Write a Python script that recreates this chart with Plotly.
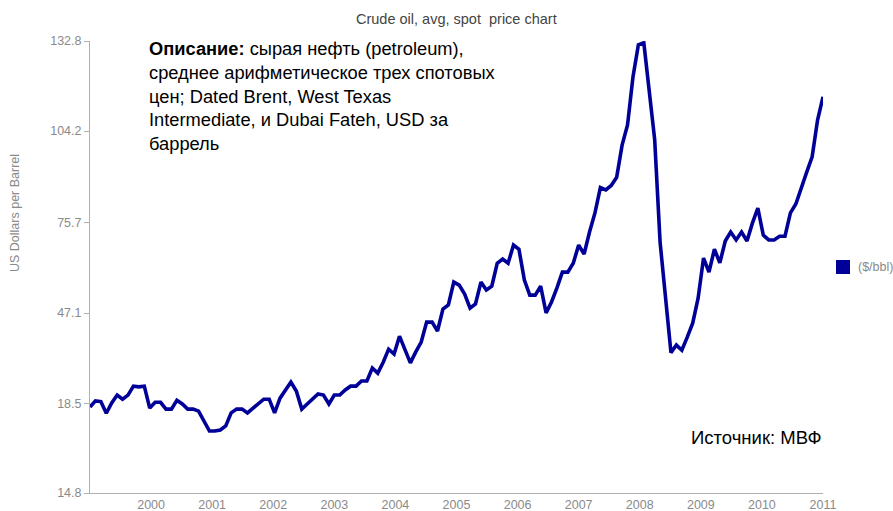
import plotly.graph_objects as go

# Monthly values, Jan 2000 - Apr 2011 ($/bbl)
y2000 = [25.9, 27.7, 27.5, 24.1, 27.1, 29.4, 28.2, 29.4, 32.0, 31.8, 32.0, 25.6]
y2001 = [27.3, 27.3, 25.3, 25.3, 27.9, 26.8, 25.3, 25.3, 24.7, 21.8, 18.9, 18.9]
y2002 = [19.2, 20.4, 24.2, 25.3, 25.3, 24.2, 25.6, 26.8, 28.2, 28.2, 24.2, 28.5]
y2003 = [30.9, 33.2, 30.6, 25.3, 26.8, 28.2, 29.7, 29.4, 26.8, 29.4, 29.4, 30.9]
y2004 = [32.0, 32.0, 33.5, 33.5, 37.3, 35.8, 39.0, 42.8, 41.4, 46.6, 42.5, 38.8]
y2005 = [42.0, 44.9, 50.7, 50.7, 48.1, 54.5, 55.7, 62.4, 61.5, 58.9, 54.8, 56.0]
y2006 = [62.4, 60.1, 61.2, 67.9, 69.1, 67.9, 73.2, 72.0, 63.0, 58.6, 58.6, 61.2]
y2007 = [53.4, 56.6, 60.7, 65.3, 65.3, 67.9, 73.2, 70.6, 77.0, 82.6, 90.0, 89.3]
y2008 = [90.6, 93.0, 102.4, 108.3, 122.3, 131.7, 132.3, 117.0, 104.0, 74.0, 57.0, 41.8]
y2009 = [44.0, 42.5, 46.3, 50.4, 57.7, 69.4, 65.3, 72.0, 68.0, 74.4, 77.0, 74.7]
y2010 = [77.0, 74.4, 79.6, 84.0, 76.1, 74.7, 74.7, 75.8, 75.8, 82.6, 85.2, 90.2]
y2011 = [94.5, 99.0, 109.7, 116.5]

prices = y2000 + y2001 + y2002 + y2003 + y2004 + y2005 + y2006 + y2007 + y2008 + y2009 + y2010 + y2011
months = list(range(len(prices)))

year_labels = ["2000", "2001", "2002", "2003", "2004", "2005",
               "2006", "2007", "2008", "2009", "2010", "2011"]
y_tick_labels = ["14.8", "18.5", "47.1", "75.7", "104.2", "132.8"]
y_tick_values = [0.8, 26.8, 53.35, 79.9, 106.5, 132.8]

series_name = "($/bbl)"
title_text = "Crude oil, avg, spot\u00a0 price chart"
y_title = "US Dollars per Barrel"
desc_text = ("<b>Описание:</b> сырая нефть (petroleum),<br>"
             "среднее арифметическое трех спотовых<br>"
             "цен; Dated Brent, West Texas<br>"
             "Intermediate, и Dubai Fateh, USD за<br>"
             "баррель")
source_text = "Источник: МВФ"

W, H = 893, 511
L, R, T, B = 90, 70, 41, 18
PW, PH = W - L - R, H - T - B


def px_x(px):
    return (px - L) / PW


def px_y(py):
    return (H - B - py) / PH


n = len(prices) - 1
x_tick_vals = [(i + 1) * n / len(year_labels) for i in range(len(year_labels))]

FONT = "Liberation Sans, Arial, sans-serif"
LINE_COLOR = "#000099"
GRAY = "#8a8a8a"

fig = go.Figure()
fig.add_trace(go.Scatter(
    x=months, y=prices, mode="lines", name=series_name,
    line=dict(color=LINE_COLOR, width=3.6, shape="linear"),
    cliponaxis=False, showlegend=False,
))

fig.update_layout(
    width=W, height=H,
    margin=dict(l=L, r=R, t=T, b=B, autoexpand=False),
    paper_bgcolor="white", plot_bgcolor="white",
    font=dict(family=FONT),
    xaxis=dict(
        range=[0, n], showgrid=False, zeroline=False, automargin=False,
        showline=True, linecolor="#b0b0b0", linewidth=1,
        tickmode="array", tickvals=x_tick_vals, ticktext=year_labels,
        ticks="", tickfont=dict(size=12.5, color=GRAY),
    ),
    yaxis=dict(
        range=[0.8, 132.8], showgrid=False, zeroline=False, automargin=False,
        showline=True, linecolor="#b0b0b0", linewidth=1,
        tickmode="array", tickvals=y_tick_values, ticktext=y_tick_labels,
        ticks="outside", ticklen=5, tickcolor="#b0b0b0",
        tickfont=dict(size=12.5, color=GRAY),
    ),
    showlegend=False,
)

# Title
fig.add_annotation(text=title_text, xref="paper", yref="paper",
                   x=0.5, y=px_y(19), xanchor="center", yanchor="middle",
                   showarrow=False, font=dict(size=14.5, color="#444444"))
# Y axis title
fig.add_annotation(text=y_title, xref="paper", yref="paper",
                   x=px_x(15), y=px_y(213), xanchor="center", yanchor="middle",
                   textangle=-90, showarrow=False,
                   font=dict(size=12.5, color=GRAY))
# Description block
fig.add_annotation(text=desc_text, xref="paper", yref="paper",
                   x=px_x(147), y=px_y(36), xanchor="left", yanchor="top",
                   align="left", showarrow=False,
                   font=dict(size=18.3, color="#000000"))
# Source
fig.add_annotation(text=source_text, xref="paper", yref="paper",
                   x=px_x(689), y=px_y(437), xanchor="left", yanchor="middle",
                   showarrow=False, font=dict(size=18.5, color="#000000"))
# Legend (swatch + label)
fig.add_shape(type="rect", xref="paper", yref="paper",
              x0=px_x(836), x1=px_x(850), y0=px_y(274), y1=px_y(260),
              fillcolor=LINE_COLOR, line=dict(width=0))
fig.add_annotation(text=series_name, xref="paper", yref="paper",
                   x=px_x(856), y=px_y(267), xanchor="left", yanchor="middle",
                   showarrow=False, font=dict(size=12.5, color=GRAY))

fig.write_html("out.html",
               config={"displayModeBar": False},
               post_script="document.body.style.margin='0px';document.body.style.overflow='hidden';")
